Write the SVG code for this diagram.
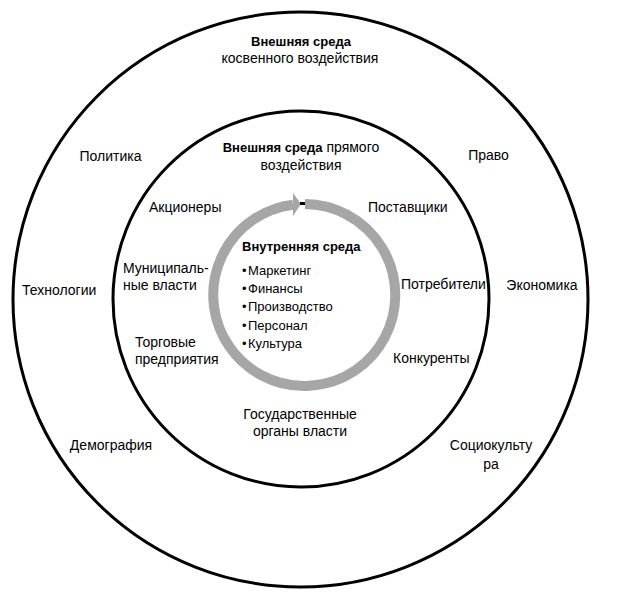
<svg xmlns="http://www.w3.org/2000/svg" width="639" height="603" viewBox="0 0 639 603">
<style>
.ring{fill:none;stroke:#000;stroke-width:3}
text{font-family:"Liberation Sans",Arial,sans-serif;font-size:14px;fill:#000}
.b{font-weight:bold;font-size:13px}
.s{font-size:13px}
.m{text-anchor:middle}
</style>
<rect width="639" height="603" fill="#fff"/>
<g id="outer-environment">
<circle class="ring" cx="300.5" cy="299.5" r="287.5"/>
<text class="m b" x="301" y="46">Внешняя среда</text>
<text class="m" x="300" y="63">косвенного воздействия</text>
<text class="m" x="110.5" y="161">Политика</text>
<text class="m" x="488.5" y="160">Право</text>
<text x="22" y="295">Технологии</text>
<text class="m" x="542" y="290">Экономика</text>
<text class="m" x="111" y="450">Демография</text>
<text class="m" x="491" y="450">Социокульту</text>
<text class="m" x="491" y="469">ра</text>
</g>
<g id="direct-environment">
<circle class="ring" cx="301" cy="299" r="188"/>
<text class="m" x="301" y="152"><tspan class="b">Внешняя среда</tspan> прямого</text>
<text class="m" x="301" y="170">воздействия</text>
<text x="149" y="212">Акционеры</text>
<text x="368" y="212">Поставщики</text>
<text x="123" y="273">Муниципаль-</text>
<text x="123" y="290">ные власти</text>
<text x="401" y="289">Потребители</text>
<text x="135" y="347">Торговые</text>
<text x="135" y="364">предприятия</text>
<text x="393" y="363">Конкуренты</text>
<text class="m" x="300" y="419">Государственные</text>
<text class="m" x="300" y="436">органы власти</text>
</g>
<g id="internal-environment">
<text class="b" x="242" y="251">Внутренняя среда</text>
<text class="s" x="242" y="275">•<tspan x="248">Маркетинг</tspan></text>
<text class="s" x="242" y="293">•<tspan x="248">Финансы</tspan></text>
<text class="s" x="242" y="311">•<tspan x="248">Производство</tspan></text>
<text class="s" x="242" y="330">•<tspan x="248">Персонал</tspan></text>
<text class="s" x="242" y="348">•<tspan x="248">Культура</tspan></text>
</g>
<g id="connectors">
<path d="M305,204 A91,91 0 1 1 293,204.7" fill="none" stroke="#a6a6a6" stroke-width="10"/>
<polygon points="293,193 301,204 293,216" fill="#a6a6a6"/>
<rect x="300" y="202" width="5" height="3" fill="#000"/>
</g>
</svg>
